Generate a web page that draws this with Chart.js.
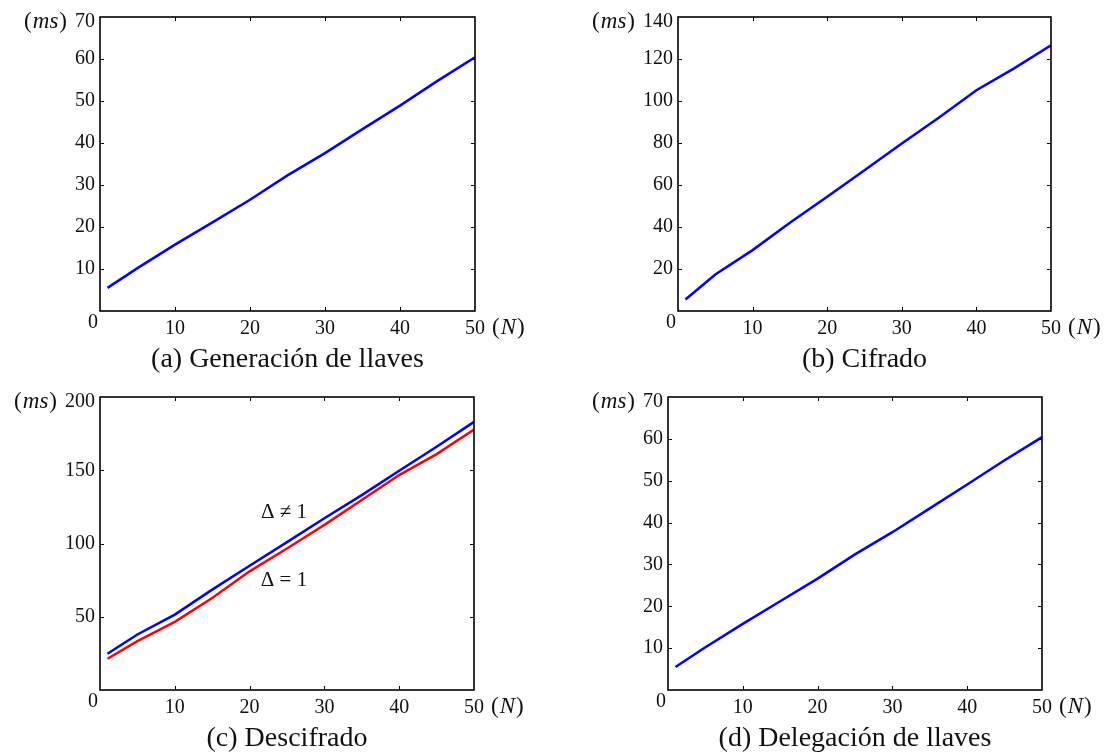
<!DOCTYPE html>
<html>
<head>
<meta charset="utf-8">
<script src="https://cdn.jsdelivr.net/npm/chart.js@4"></script>
<style>
  html, body { margin: 0; padding: 0; background: #fff; }
  #wrap { position: relative; width: 1117px; height: 752px; }
  canvas { position: absolute; }
</style>
</head>
<body>
<div id="wrap">
  <canvas id="chartA" width="558" height="376" style="left:0;top:0"></canvas>
  <canvas id="chartB" width="559" height="376" style="left:558px;top:0"></canvas>
  <canvas id="chartC" width="558" height="376" style="left:0;top:376px"></canvas>
  <canvas id="chartD" width="559" height="376" style="left:558px;top:376px"></canvas>
</div>
<script>
// numero de usuarios (N)
const nValues = [1, 5, 10, 15, 20, 25, 30, 35, 40, 45, 50];

// tiempos en ms
const keyGenMs     = [5.5, 10.2, 15.8, 21.1, 26.5, 32.3, 37.6, 43.3, 48.9, 54.8, 60.4];
const encryptMs    = [5.5, 17.4, 29.0, 42.0, 54.4, 67.0, 79.8, 92.1, 105.1, 115.4, 126.5];
const decryptNeqMs = [24.7, 37.9, 51.5, 68.5, 84.8, 100.9, 117.2, 133.0, 149.7, 166.0, 183.0];
const decryptEqMs  = [21.3, 33.3, 46.5, 62.8, 81.0, 96.6, 112.7, 129.7, 146.7, 161.0, 177.8];
const delegateMs   = [5.5, 10.2, 15.8, 21.2, 26.6, 32.4, 37.7, 43.4, 49.1, 54.9, 60.4];

const subtitles = ['(a) Generación de llaves', '(b) Cifrado', '(c) Descifrado', '(d) Delegación de llaves'];

const SERIF = '"Liberation Serif", "Times New Roman", serif';
const TICK_SIZE = 20;

Chart.defaults.font.family = SERIF;
Chart.defaults.color = '#111';

function toPoints(values) {
    return nValues.map((n, i) => ({ x: n, y: values[i] }));
}

// texto con partes en cursiva (modo matematico)
function drawMixed(ctx, parts, x, y, align, size) {
    let total = 0;
    parts.forEach(p => {
        ctx.font = (p[1] ? 'italic ' : '') + size + 'px ' + SERIF;
        total += ctx.measureText(p[0]).width + (p[2] || 0);
    });
    let cx = align === 'right' ? x - total : x;
    ctx.textAlign = 'left';
    parts.forEach(p => {
        ctx.font = (p[1] ? 'italic ' : '') + size + 'px ' + SERIF;
        ctx.fillText(p[0], cx, y);
        cx += ctx.measureText(p[0]).width + (p[2] || 0);
    });
}

function extrasPlugin(subtitle, notes) {
    return {
        id: 'extras',
        afterDraw(chart) {
            const ctx = chart.ctx;
            const a = chart.chartArea;
            const xs = chart.scales.x;
            const ys = chart.scales.y;
            ctx.save();

            // marcas hacia dentro en los cuatro lados
            ctx.strokeStyle = '#000';
            ctx.lineWidth = 1;
            ctx.beginPath();
            xs.ticks.forEach(t => {
                if (t.value <= xs.min || t.value >= xs.max) return;
                const px = Math.round(xs.getPixelForValue(t.value)) + 0.5;
                ctx.moveTo(px, a.bottom); ctx.lineTo(px, a.bottom - 4);
                ctx.moveTo(px, a.top); ctx.lineTo(px, a.top + 4);
            });
            ys.ticks.forEach(t => {
                if (t.value <= ys.min || t.value >= ys.max) return;
                const py = Math.round(ys.getPixelForValue(t.value)) + 0.5;
                ctx.moveTo(a.left, py); ctx.lineTo(a.left + 4, py);
                ctx.moveTo(a.right, py); ctx.lineTo(a.right - 4, py);
            });
            ctx.stroke();

            // marco
            ctx.lineWidth = 1.6;
            ctx.strokeRect(a.left, a.top, a.right - a.left, a.bottom - a.top);

            ctx.fillStyle = '#111';
            ctx.textBaseline = 'middle';

            // etiqueta superior del eje y, algo por debajo de la marca, y (ms)
            ctx.font = TICK_SIZE + 'px ' + SERIF;
            ctx.textAlign = 'right';
            const topY = ys.getPixelForValue(ys.max) + 5;
            ctx.fillText(String(ys.max), a.left - 5, topY);
            const topW = ctx.measureText(String(ys.max)).width;
            drawMixed(ctx, [['(', false, 1], ['ms', true, 1], [')', false]],
                a.left - 5 - topW - 8, topY, 'right', 23);

            // (N) a la derecha de la ultima etiqueta
            ctx.font = TICK_SIZE + 'px ' + SERIF;
            const lastW = ctx.measureText(String(xs.max)).width;
            drawMixed(ctx, [['(', false, 1], ['N', true, 1], [')', false]],
                a.right + lastW / 2 + 7, a.bottom + 17, 'left', 23);

            // cero en la esquina
            ctx.font = TICK_SIZE + 'px ' + SERIF;
            ctx.textAlign = 'center';
            ctx.fillText('0', a.left - 7, a.bottom + 12);

            // anotaciones
            (notes || []).forEach(n => {
                ctx.font = '21px ' + SERIF;
                ctx.textAlign = 'center';
                ctx.fillText(n.text, xs.getPixelForValue(n.x), ys.getPixelForValue(n.y));
            });

            // subtitulo
            ctx.font = '28px ' + SERIF;
            ctx.textAlign = 'center';
            ctx.textBaseline = 'alphabetic';
            ctx.fillText(subtitle, (a.left + a.right) / 2, a.bottom + 56);

            ctx.restore();
        }
    };
}

function makeChart(id, datasets, yMax, yStep, box, subtitle, notes) {
    const canvas = document.getElementById(id);
    return new Chart(canvas.getContext('2d'), {
        type: 'line',
        data: { datasets: datasets },
        options: {
            responsive: false,
            animation: false,
            parsing: false,
            layout: { padding: { left: 0, top: box.top, right: canvas.width - box.right, bottom: 0 } },
            plugins: { legend: { display: false }, tooltip: { enabled: false } },
            elements: { point: { radius: 0 }, line: { borderWidth: 2.5, tension: 0 } },
            scales: {
                x: {
                    type: 'linear', min: 0, max: 50,
                    grid: { display: false, drawTicks: false }, border: { display: false },
                    ticks: { stepSize: 10, padding: 6, maxRotation: 0, font: { size: TICK_SIZE },
                             callback: v => v === 0 ? '' : v },
                    afterFit: s => { s.height = canvas.height - box.bottom; }
                },
                y: {
                    type: 'linear', min: 0, max: yMax,
                    grid: { display: false, drawTicks: false }, border: { display: false },
                    ticks: { stepSize: yStep, padding: 5, font: { size: TICK_SIZE },
                             callback: v => (v === 0 || v === yMax) ? '' : v },
                    afterFit: s => { s.width = box.left; }
                }
            }
        },
        plugins: [extrasPlugin(subtitle, notes)]
    });
}

function line(values, color) {
    return { data: toPoints(values), borderColor: color, backgroundColor: color, fill: false };
}

makeChart('chartA', [line(keyGenMs, '#0000ff')], 70, 10,
    { left: 100, top: 17, right: 475, bottom: 311 }, subtitles[0]);

makeChart('chartB', [line(encryptMs, '#0000ff')], 140, 20,
    { left: 120, top: 17, right: 493, bottom: 311 }, subtitles[1]);

makeChart('chartC', [line(decryptNeqMs, '#0000ff'), line(decryptEqMs, '#ff0000')], 200, 50,
    { left: 100, top: 21, right: 474, bottom: 314 }, subtitles[2],
    [{ text: 'Δ ≠ 1', x: 24.6, y: 121.5 }, { text: 'Δ = 1', x: 24.6, y: 75 }]);

makeChart('chartD', [line(delegateMs, '#0000ff')], 70, 10,
    { left: 110, top: 21, right: 484, bottom: 314 }, subtitles[3]);
</script>
</body>
</html>
